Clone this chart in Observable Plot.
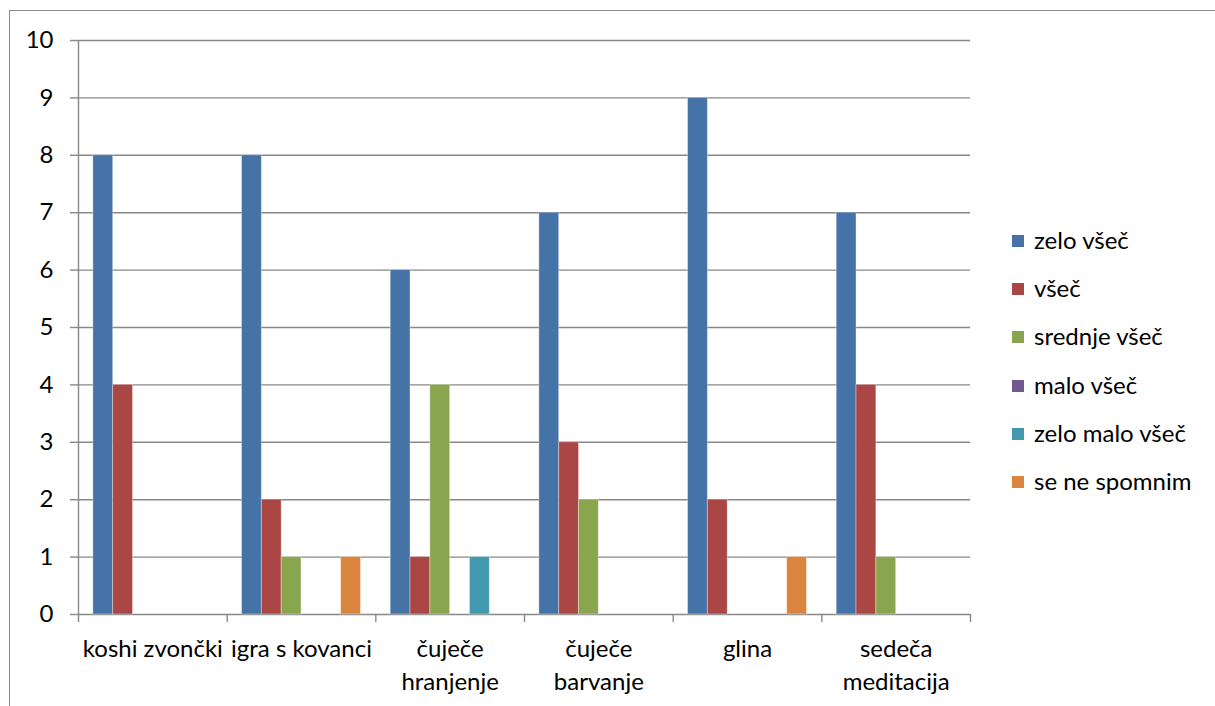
<!DOCTYPE html>
<html>
<head>
<meta charset="utf-8">
<script src="https://cdn.jsdelivr.net/npm/d3@7"></script>
<script src="https://cdn.jsdelivr.net/npm/@observablehq/plot@0.6"></script>
<style>
  html, body { margin: 0; padding: 0; background: #fff; }
  #wrap { position: relative; width: 1215px; height: 706px; overflow: hidden; font-family: Lato, "Open Sans", sans-serif; }
  #frame { position: absolute; left: 9px; top: 10px; width: 1300px; height: 800px; border: 1.5px solid #8a8a8a; box-sizing: border-box; }
  #chart { position: absolute; left: 0; top: 0; }
  #legend { position: absolute; left: 1012px; top: 225px; font-size: 24px; color: #000; }
  .item { height: 48.2px; display: flex; align-items: flex-start; }
  .sw { width: 12px; height: 12px; margin-top: 10px; margin-right: 10px; }
</style>
</head>
<body>
<div id="wrap">
  <div id="frame"></div>
  <div id="chart"></div>
  <div id="legend"></div>
</div>
<script>
const categories = ["koshi zvončki", "igra s kovanci", "čuječe\nhranjenje", "čuječe\nbarvanje", "glina", "sedeča\nmeditacija"];
const series = ["zelo všeč", "všeč", "srednje všeč", "malo všeč", "zelo malo všeč", "se ne spomnim"];
const colors = ["#4572A7", "#AA4643", "#89A54E", "#71588F", "#4198AF", "#DB843D"];
const zeloVsec     = [8, 8, 6, 7, 9, 7];
const vsec         = [4, 2, 1, 3, 2, 4];
const srednjeVsec  = [0, 1, 4, 2, 0, 1];
const maloVsec     = [0, 0, 0, 0, 0, 0];
const zeloMaloVsec = [0, 0, 1, 0, 0, 0];
const seNeSpomnim  = [0, 1, 0, 0, 1, 0];
const yTicks = [0, 1, 2, 3, 4, 5, 6, 7, 8, 9, 10];

const values = [zeloVsec, vsec, srednjeVsec, maloVsec, zeloMaloVsec, seNeSpomnim];
const inner = d3.scaleBand(series, [0.1, 0.9]);
const data = [];
categories.forEach((c, ci) => series.forEach((s, si) => {
  data.push({ci, cat: c, series: s, value: values[si][ci],
    x1: ci + inner(s), x2: ci + inner(s) + inner.bandwidth()});
}));

const chart = Plot.plot({
  width: 1215, height: 706,
  marginLeft: 78, marginRight: 245, marginTop: 40, marginBottom: 92,
  style: { fontFamily: "Lato, 'Open Sans', sans-serif", fontSize: "24px", color: "#000", background: "transparent" },
  x: { domain: [0, categories.length] },
  y: { domain: [0, 10] },
  color: { domain: series, range: colors },
  marks: [
    Plot.ruleY(yTicks, { y: d => d, x1: 0, x2: categories.length, stroke: "#888", strokeWidth: 1.4, strokeOpacity: 1 }),
    Plot.axisY({ ticks: yTicks, tickSize: 8, tickPadding: 17, fontSize: 24, stroke: "#888", strokeWidth: 1.4, strokeOpacity: 1, label: null, fill: "#000", tickFormat: d => d }),
    Plot.rectY(data.filter(d => d.value > 0), { x1: "x1", x2: "x2", y1: 0, y2: "value", fill: "series", stroke: "#ffffff", strokeOpacity: 0.35, strokeWidth: 1 }),
    Plot.ruleX([0], { y1: 0, y2: 10, stroke: "#888", strokeWidth: 1.4 }),
    Plot.axisX({ ticks: d3.range(0, categories.length + 1), tickSize: 8, tickFormat: () => "", stroke: "#888", strokeWidth: 1.4, strokeOpacity: 1, label: null }),
    Plot.axisX({ ticks: d3.range(categories.length).map(i => i + 0.5), tickSize: 0, tickPadding: 19, fontSize: 24, tickFormat: d => categories[Math.floor(d)], lineHeight: 1.38, fill: "#000", label: null }),
  ]
});
document.getElementById("chart").appendChild(chart);

const legend = document.getElementById("legend");
series.forEach((s, i) => {
  const it = document.createElement("div");
  it.className = "item";
  it.innerHTML = `<div class="sw" style="background:${colors[i]}"></div><div>${s}</div>`;
  legend.appendChild(it);
});
</script>
</body>
</html>
